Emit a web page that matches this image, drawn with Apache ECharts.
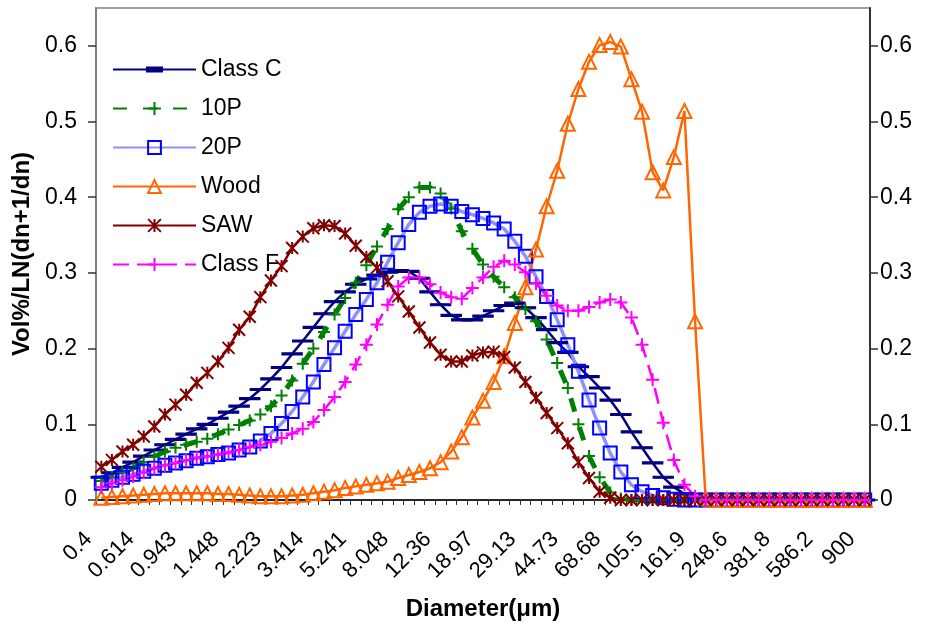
<!DOCTYPE html>
<html>
<head>
<meta charset="utf-8">
<script src="https://cdn.jsdelivr.net/npm/echarts@6.0.0/dist/echarts.min.js"></script>
<style>
  html, body { margin: 0; padding: 0; background: #fff; }
  #chart { width: 925px; height: 624px; }
</style>
</head>
<body>
<div id="chart"></div>
<script>
// particle size bins (um), a label is shown every 4th bin
const diameters = ['0.4','0.4453','0.4957','0.5517','0.614','0.6837','0.7611','0.8472','0.943','1.05','1.169','1.301','1.448','1.612','1.794','1.997','2.223','2.475','2.755','3.067','3.414','3.8','4.23','4.709','5.241','5.835','6.495','7.23','8.048','8.959','9.973','11.1','12.36','13.76','15.31','17.05','18.97','21.12','23.51','26.17','29.13','32.43','36.1','40.18','44.73','49.79','55.43','61.7','68.68','76.45','85.11','94.74','105.5','117.4','130.7','145.5','161.9','180.3','200.7','223.4','248.6','276.8','308.1','343','381.8','425','473.1','526.7','586.2','652.6','726.4','808.6','900'];

const classC = [0.030,0.036,0.043,0.050,0.058,0.066,0.073,0.080,0.087,0.094,
  0.100,0.108,0.116,0.124,0.134,0.146,0.160,0.175,0.193,0.210,
  0.228,0.246,0.262,0.275,0.285,0.292,0.297,0.301,0.303,0.302,
  0.293,0.275,0.258,0.244,0.238,0.238,0.243,0.250,0.257,0.260,
  0.254,0.241,0.225,0.208,0.195,0.176,0.163,0.148,0.132,0.113,
  0.090,0.069,0.049,0.030,0.017,0.008,0.003,0,0,0,
  0,0,0,0,0,0,0,0,0,0,0,0,0];

const p10 = [0.025,0.030,0.036,0.042,0.050,0.057,0.064,0.069,0.073,0.077,
  0.081,0.087,0.093,0.099,0.105,0.113,0.124,0.138,0.158,0.180,
  0.200,0.222,0.245,0.267,0.287,0.310,0.335,0.358,0.384,0.400,
  0.413,0.413,0.405,0.385,0.355,0.332,0.311,0.295,0.281,0.268,
  0.252,0.236,0.212,0.181,0.148,0.100,0.058,0.030,0.010,0.002,
  0,0,0,0,0,0,0,0,0,0,
  0,0,0,0,0,0,0,0,0,0,0,0,0];

const p20 = [0.022,0.026,0.030,0.034,0.038,0.042,0.046,0.049,0.052,0.055,
  0.057,0.060,0.062,0.066,0.070,0.078,0.088,0.101,0.117,0.136,
  0.156,0.179,0.201,0.223,0.245,0.265,0.287,0.314,0.340,0.364,
  0.380,0.388,0.391,0.388,0.381,0.377,0.372,0.366,0.358,0.342,
  0.322,0.295,0.269,0.238,0.205,0.170,0.132,0.095,0.062,0.037,
  0.020,0.011,0.006,0.003,0.001,0,0,0,0,0,
  0,0,0,0,0,0,0,0,0,0,0,0,0];

const wood = [0.003,0.004,0.005,0.006,0.007,0.008,0.009,0.009,0.009,0.009,
  0.009,0.008,0.008,0.007,0.006,0.005,0.005,0.005,0.006,0.007,
  0.009,0.011,0.013,0.016,0.018,0.020,0.022,0.024,0.029,0.033,
  0.037,0.042,0.050,0.064,0.083,0.109,0.131,0.156,0.190,0.234,
  0.281,0.331,0.388,0.435,0.497,0.543,0.579,0.601,0.605,0.599,
  0.556,0.513,0.433,0.409,0.453,0.514,0.236,0.002,0,0,
  0,0,0,0,0,0,0,0,0,0,0,0,0];

const saw = [0.044,0.053,0.064,0.073,0.084,0.097,0.113,0.126,0.139,0.155,
  0.168,0.183,0.201,0.225,0.242,0.268,0.290,0.309,0.333,0.348,
  0.359,0.363,0.362,0.352,0.336,0.321,0.307,0.289,0.269,0.249,
  0.228,0.208,0.192,0.183,0.183,0.191,0.195,0.196,0.189,0.175,
  0.156,0.135,0.115,0.095,0.075,0.050,0.029,0.011,0.003,0,
  0,0,0,0,0,0,0,0,0,0,
  0,0,0,0,0,0,0,0,0,0,0,0,0];

const classF = [0.017,0.022,0.026,0.031,0.036,0.042,0.046,0.049,0.053,0.056,
  0.058,0.060,0.063,0.066,0.070,0.073,0.077,0.082,0.088,0.094,
  0.103,0.119,0.136,0.156,0.179,0.205,0.232,0.258,0.282,0.294,
  0.294,0.285,0.274,0.268,0.266,0.280,0.294,0.308,0.316,0.311,
  0.301,0.286,0.270,0.257,0.250,0.250,0.255,0.261,0.265,0.261,
  0.241,0.205,0.159,0.102,0.053,0.020,0.005,0,0,0,
  0,0,0,0,0,0,0,0,0,0,0,0,0];

const yTicks = [0, 0.1, 0.2, 0.3, 0.4, 0.5, 0.6];

// marker shapes (stroked paths)
const plusPath = 'path://M6,0V12M0,6H12';
const starPath = 'path://M0,0L12,12M12,0L0,12M6,0V12';
const dashPath = 'path://M0,0H18V6H0Z';
// legend icon for Class C: line with a short thick dash in the middle
const classCIcon = 'path://M0,7H83V9H0ZM33,5H50V11H33Z';

const FONT = 'Liberation Sans, Arial, sans-serif';

function yLabel(v) {
  // only the 0.1 steps get a label
  for (let i = 0; i < yTicks.length; i++) {
    if (Math.abs(v - yTicks[i]) < 1e-6) return String(yTicks[i]);
  }
  return '';
}

function makeSeries(name, data, color, lineStyle, symbol, size, hollow) {
  return {
    name: name,
    type: 'line',
    data: data,
    symbol: symbol,
    symbolSize: size,
    symbolKeepAspect: true,
    showAllSymbol: true,
    lineStyle: Object.assign({ color: color }, lineStyle),
    itemStyle: {
      color: hollow ? 'rgba(0,0,0,0)' : color,
      borderColor: color,
      borderWidth: 2
    },
    emphasis: { disabled: true }
  };
}

function getOption() {
  const yAxisBase = {
    type: 'value',
    min: 0,
    max: 0.65,
    interval: 0.1,
    splitLine: { show: false },
    axisLine: { show: true, lineStyle: { color: '#808080', width: 2 } },
    axisTick: { show: true, length: 8, customValues: yTicks, lineStyle: { color: '#333', width: 1.5 } },
    axisLabel: { color: '#000', fontSize: 23, fontFamily: FONT, formatter: yLabel, customValues: yTicks }
  };
  return {
    animation: false,
    backgroundColor: '#fff',
    textStyle: { fontFamily: FONT },
    grid: {
      left: 96, right: 55, top: 8, bottom: 124,
      show: true, borderColor: '#808080', borderWidth: 1.5,
      containLabel: false, outerBoundsMode: 'none'
    },
    legend: {
      orient: 'vertical',
      left: 112,
      top: 58,
      padding: 0,
      itemWidth: 83,
      itemHeight: 16,
      itemGap: 16,
      textStyle: { color: '#000', fontSize: 23, lineHeight: 23, fontFamily: FONT },
      data: [
        { name: 'Class C', icon: classCIcon, itemStyle: { color: '#000080', borderWidth: 0 } },
        '10P', '20P', 'Wood', 'SAW', 'Class F'
      ]
    },
    xAxis: {
      type: 'category',
      data: diameters,
      boundaryGap: true,
      name: 'Diameter(\u03bcm)',
      nameLocation: 'middle',
      nameGap: 97,
      nameTextStyle: { color: '#000', fontSize: 24, fontWeight: 'bold', fontFamily: FONT },
      axisLine: { lineStyle: { color: '#000', width: 1.5 } },
      axisTick: { show: true, interval: 0, length: 5, lineStyle: { color: '#333' } },
      axisLabel: {
        interval: 3, rotate: 45, color: '#000', fontSize: 22, fontFamily: FONT,
        margin: 23, padding: [0, 18, 0, 0]
      },
      splitLine: { show: false }
    },
    yAxis: [
      Object.assign({}, yAxisBase, {
        position: 'left',
        name: 'Vol%/LN(dn+1/dn)',
        nameLocation: 'middle',
        nameGap: 62,
        nameTextStyle: { color: '#000', fontSize: 24, fontWeight: 'bold', fontFamily: FONT },
        axisLabel: Object.assign({}, yAxisBase.axisLabel, { margin: 19 })
      }),
      Object.assign({}, yAxisBase, {
        position: 'right',
        axisLine: { show: true, lineStyle: { color: '#333', width: 2 } },
        axisLabel: Object.assign({}, yAxisBase.axisLabel, { margin: 10 })
      })
    ],
    series: [
      makeSeries('Class C', classC, '#000080', { width: 2.5, type: 'solid' }, dashPath, [18, 6], false),
      makeSeries('10P', p10, '#008000', { width: 5, type: [14, 16], cap: 'butt' }, plusPath, 12, true),
      makeSeries('20P', p20, '#0000ff', { width: 3.5, color: '#9090ff' }, 'rect', 13, true),
      makeSeries('Wood', wood, '#ff6600', { width: 2.5 }, 'triangle', 14, true),
      makeSeries('SAW', saw, '#800000', { width: 2.5 }, starPath, 12, true),
      makeSeries('Class F', classF, '#ff00ff', { width: 2.5, type: [16, 8] }, plusPath, 13, true)
    ]
  };
}

const chart = echarts.init(document.getElementById('chart'), null, { renderer: 'canvas' });
chart.setOption(getOption());
</script>
</body>
</html>
